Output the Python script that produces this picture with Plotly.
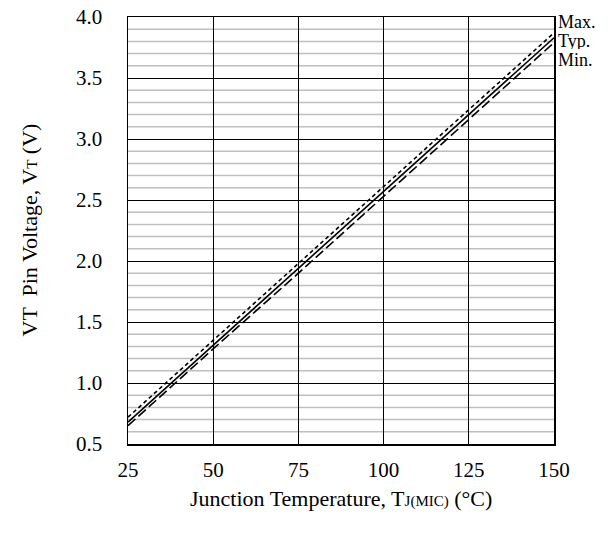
import plotly.graph_objects as go

temps = [25, 50, 75, 100, 125, 150]
v_max = [0.72, 1.35, 1.98, 2.61, 3.24, 3.87]
v_typ = [0.68, 1.31, 1.94, 2.57, 3.20, 3.83]
v_min = [0.65, 1.28, 1.90, 2.53, 3.16, 3.79]
series_names = ["Max.", "Typ.", "Min."]
label_y = [3.96, 3.81, 3.65]

FONT = "Liberation Serif, Times New Roman, serif"

fig = go.Figure()
# minor horizontal grid lines
for i in range(6, 40):
    v = i / 10
    if i % 5 != 0:
        fig.add_shape(type="line", xref="x", yref="y", x0=25, x1=150, y0=v, y1=v,
                      line=dict(color="#bfbfbf", width=1.5), layer="below")

dashes = ["4px,3px", "solid", "10px,4px"]
for name, vals, d in zip(series_names, [v_max, v_typ, v_min], dashes):
    fig.add_trace(go.Scatter(x=temps, y=vals, mode="lines", name=name,
                             line=dict(color="black", width=1.6, dash=d),
                             showlegend=False, hoverinfo="skip"))

for name, ly in zip(series_names, label_y):
    fig.add_annotation(x=1.0, xref="paper", y=ly, yref="y", text=name,
                       showarrow=False, xanchor="left", yanchor="middle", xshift=2,
                       height=17, font=dict(family=FONT, size=18, color="black"))

# axis titles as annotations
fig.add_annotation(x=0.5, xref="paper", y=0, yref="paper", yshift=-54,
                   text="Junction Temperature, T<span style='font-size:15px'>J(MIC)</span> (°C)",
                   showarrow=False, xanchor="center", yanchor="middle",
                   font=dict(family=FONT, size=22, color="black"))
fig.add_annotation(x=0, xref="paper", y=0.5, yref="paper", xshift=-99,
                   text="VT  Pin Voltage, V<span style='font-size:15px'>T</span> (V)",
                   textangle=-90, showarrow=False, xanchor="center", yanchor="middle",
                   font=dict(family=FONT, size=22, color="black"))

fig.update_xaxes(range=[25, 150], tickvals=temps, ticks="", showgrid=True,
                 gridcolor="black", gridwidth=1, showline=True, linecolor="black",
                 linewidth=1.5, mirror=True, zeroline=False, automargin=False,
                 ticklabelstandoff=6, ticklabeloverflow="allow",
                 tickfont=dict(family=FONT, size=21, color="black"))
fig.update_yaxes(range=[0.5, 4.0], tickvals=[0.5, 1.0, 1.5, 2.0, 2.5, 3.0, 3.5, 4.0],
                 ticktext=["0.5", "1.0", "1.5", "2.0", "2.5", "3.0", "3.5", "4.0"],
                 ticks="", showgrid=True, gridcolor="black", gridwidth=1,
                 showline=True, linecolor="black", linewidth=1.5, mirror=True,
                 zeroline=False, ticklabelstandoff=20, automargin=False,
                 ticklabeloverflow="allow",
                 tickfont=dict(family=FONT, size=21, color="black"))

fig.update_layout(width=614, height=540, margin=dict(l=128, r=60, t=17, b=96),
                  plot_bgcolor="white", paper_bgcolor="white", hovermode=False)

fig.write_html("out.html", config={"displayModeBar": False, "staticPlot": True},
               post_script="document.body.style.margin='0';document.body.style.overflow='hidden';")
